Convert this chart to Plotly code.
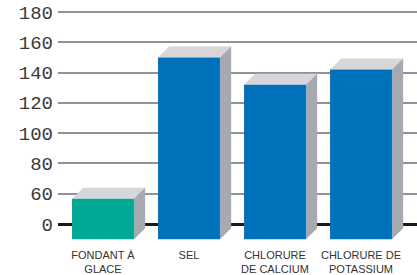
import plotly.graph_objects as go

categories = ["FONDANT À<br>GLACE", "SEL", "CHLORURE<br>DE CALCIUM", "CHLORURE DE<br>POTASSIUM"]
values = [50, 150, 132, 142]
bar_colors = ["#00a896", "#0072bc", "#0072bc", "#0072bc"]
tick_values = [0, 60, 80, 100, 120, 140, 160, 180]

# broken axis: 0-60 occupies one step, then 20 per step
def pos(v):
    return v / 60.0 if v <= 60 else 1 + (v - 60) / 20.0

TOP = "#d6d6db"
SIDE = "#a7a9b1"
W = 0.72      # front face width (x units)
DX = 0.13     # depth offset x
DY = 0.36     # depth offset y (position units)
BASE = -0.5   # front face bottom

fig = go.Figure()
for i, (v, c) in enumerate(zip(values, bar_colors)):
    x0, x1 = i - W / 2, i + W / 2
    yt = pos(v)
    # top face
    fig.add_trace(go.Scatter(
        x=[x0, x1, x1 + DX, x0 + DX, x0], y=[yt, yt, yt + DY, yt + DY, yt],
        fill="toself", fillcolor=TOP, line=dict(width=0), mode="lines",
        hoverinfo="skip", showlegend=False))
    # side face
    fig.add_trace(go.Scatter(
        x=[x1, x1 + DX, x1 + DX, x1, x1], y=[BASE, BASE + DY, yt + DY, yt, BASE],
        fill="toself", fillcolor=SIDE, line=dict(width=0), mode="lines",
        hoverinfo="skip", showlegend=False))
    # front face
    fig.add_trace(go.Scatter(
        x=[x0, x1, x1, x0, x0], y=[BASE, BASE, yt, yt, BASE],
        fill="toself", fillcolor=c, line=dict(width=0), mode="lines",
        hoverinfo="skip", showlegend=False))

fig.update_layout(
    width=417, height=275,
    margin=dict(l=58, r=0, t=10, b=35),
    paper_bgcolor="white", plot_bgcolor="white",
    xaxis=dict(
        range=[-0.523, 3.651], tickmode="array", automargin=False,
        tickvals=list(range(len(categories))), ticktext=categories,
        showgrid=False, zeroline=False, showline=False, ticks="",
        ticklabelstandoff=7,
        tickfont=dict(family="Liberation Sans, Arial, sans-serif", size=11, color="#333333"),
    ),
    yaxis=dict(
        range=[-0.528, 7.065], tickmode="array", automargin=False,
        tickvals=[pos(t) for t in tick_values], ticktext=[str(t) for t in tick_values],
        showgrid=True, gridcolor="#8e929c", gridwidth=1.5,
        zeroline=True, zerolinecolor="#1a1a1a", zerolinewidth=3,
        showline=False, ticks="", ticklabelstandoff=4, ticklabeloverflow="allow",
        tickfont=dict(family="Liberation Mono, Courier New, monospace", size=19, color="#3a3a3a"),
    ),
)

fig.write_html("out.html", config={"displayModeBar": False},
               post_script="document.body.style.margin='0';")
